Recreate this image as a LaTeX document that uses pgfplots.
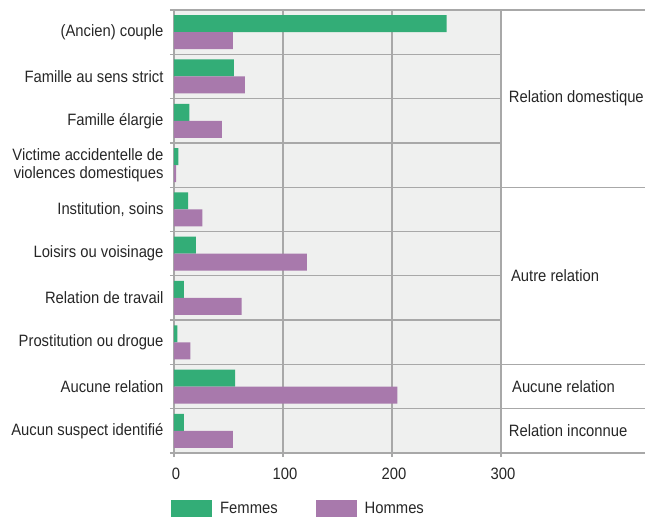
\documentclass[border=0pt]{standalone}
\usepackage{pgfplots}
\pgfplotsset{compat=1.18}
\usepackage{fontspec}
\setmainfont{Liberation Sans}[FakeStretch=0.9]

\definecolor{femmes}{HTML}{33AD77}
\definecolor{hommes}{HTML}{A879AC}
\definecolor{fond}{HTML}{EFF0EF}
\definecolor{trait}{HTML}{A8A8A8}

% y: 9 = (Ancien) couple ... 0 = Aucun suspect identifie
\pgfplotstableread{
y F H
9 250 54
8 55 65
7 14 44
6 4 2
5 13 26
4 20 122
3 9 62
2 3 15
1 56 205
0 9 54
}\donnees

\newcommand{\police}{\fontsize{16.5}{18.5}\selectfont}

\begin{document}
\begin{tikzpicture}
\begin{axis}[
    at={(0,0)}, anchor=south west,
    width=327bp, height=443bp, scale only axis,
    xbar=0pt, bar width=17bp,
    xmin=0, xmax=300, ymin=-0.5, ymax=9.5,
    clip=false,
    axis background/.style={fill=fond},
    axis line style={trait, line width=1.3bp},
    xtick={0,100,200,300},
    ytick={-0.5,0.5,...,9.5},
    yticklabels={{},{},{},{},{},{},{},{},{},{},{}},
    extra y ticks={0,...,9},
    extra y tick labels={Aucun suspect identifié, Aucune relation, Prostitution ou drogue, Relation de travail, Loisirs ou voisinage, {Institution, soins}, Victime accidentelle de\\violences domestiques, Famille élargie, Famille au sens strict, (Ancien) couple},
    extra y tick style={major tick length=0pt, grid=none},
    xtick pos=bottom, ytick pos=left,
    xmajorgrids, ymajorgrids,
    grid style={trait, line width=1.3bp},
    tick style={trait, line width=1.3bp},
    tick align=outside, major tick length=4bp,
    tick label style={font=\police, text=black!85},
    yticklabel style={align=right, xshift=-7bp},
    xticklabel style={yshift=-8bp, xshift=2bp},
    /pgf/number format/assume math mode=true,
    legend columns=2,
    legend style={at={(axis cs:0,-0.5)}, anchor=north west, xshift=-3bp, yshift=-47bp,
        draw=none, fill=none, inner sep=0pt, font=\police, text=black!85,
        /tikz/every odd column/.append style={column sep=6bp},
        /tikz/every even column/.append style={column sep=36bp}},
    legend image code/.code={\path[#1] (0bp,-8.5bp) rectangle (41bp,8.5bp);},
]
\addplot[fill=femmes, draw=none, bar shift=8.5bp] table[x=F, y=y] {\donnees};
\addlegendentry{Femmes}
\addplot[fill=hommes, draw=none, bar shift=-8.5bp] table[x=H, y=y] {\donnees};
\addlegendentry{Hommes}

\pgfplotsinvokeforeach{9.5,5.5,1.5,0.5,-0.5}{
  \draw[trait, line width=1.3bp] (axis cs:300,#1) -- (axis cs:432,#1);
}
\begin{scope}[font=\police, text=black!85]
\node[anchor=west] at (axis cs:304,7.5) {Relation domestique};
\node[anchor=west] at (axis cs:306,3.5) {Autre relation};
\node[anchor=west] at (axis cs:307,1) {Aucune relation};
\node[anchor=west] at (axis cs:304,0) {Relation inconnue};
\end{scope}
\end{axis}
\pgfresetboundingbox
\useasboundingbox (-174bp,-64bp) rectangle (471bp,453bp);
\end{tikzpicture}
\end{document}
